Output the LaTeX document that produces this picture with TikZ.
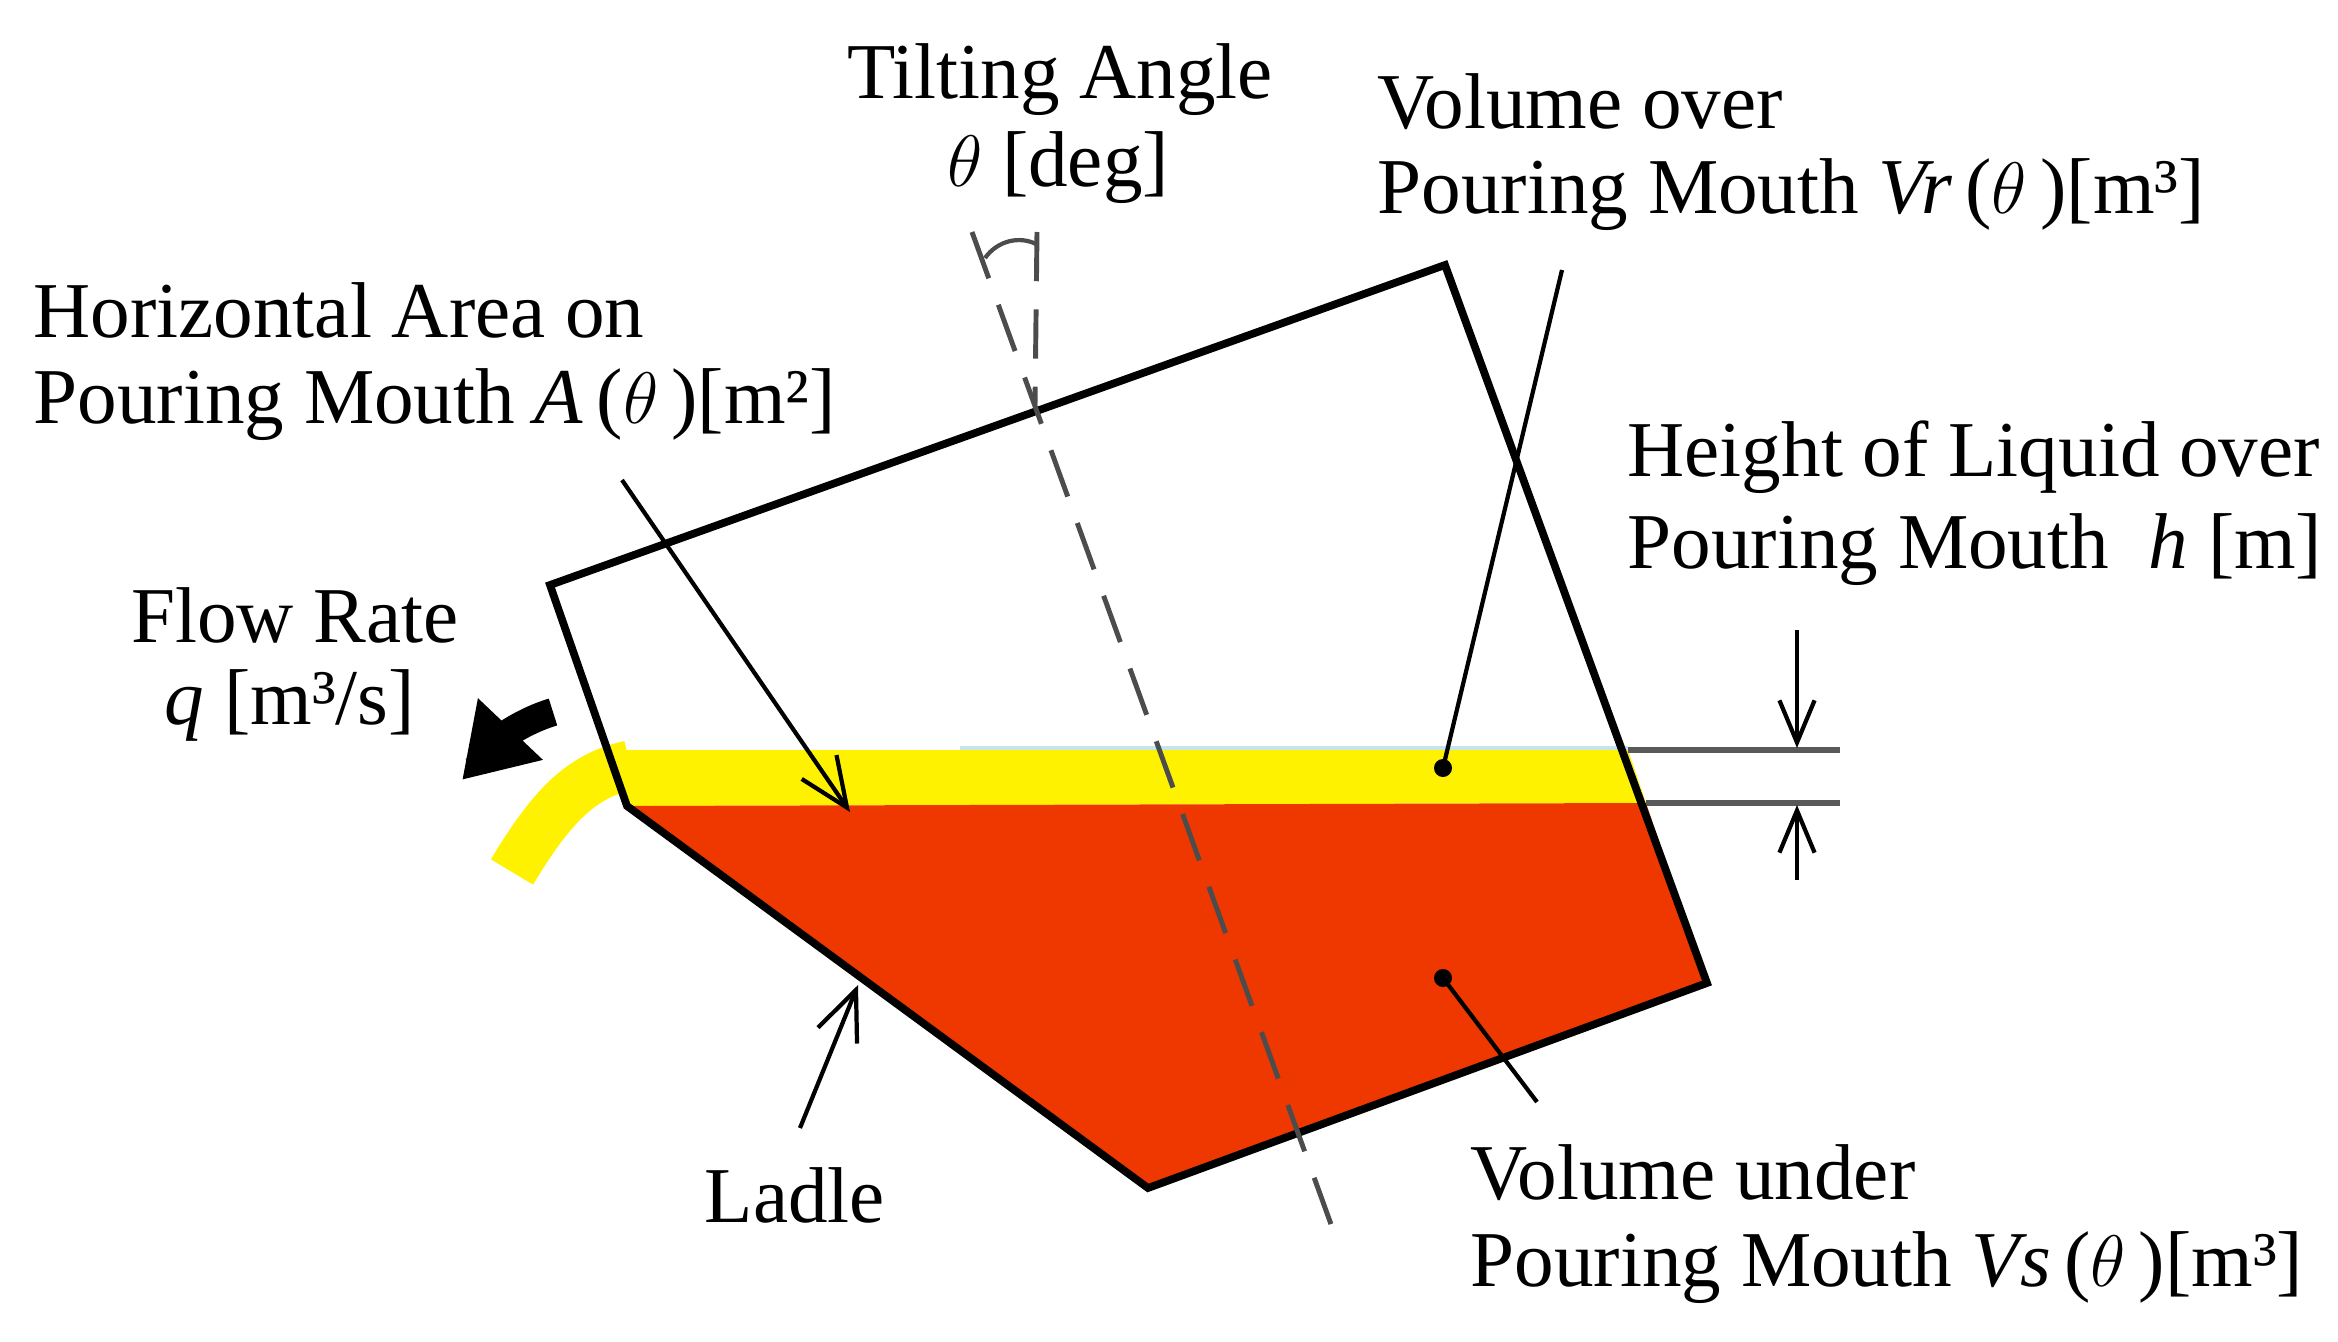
\documentclass[tikz,border=0pt]{standalone}
\usepackage{fontspec}
\setmainfont{Liberation Serif}
\usetikzlibrary{arrows.meta}
\begin{document}
\begin{tikzpicture}[x=0.01cm,y=-0.01cm,
  lbl/.style={font=\fontsize{22.5}{27}\selectfont,inner sep=0pt},
  lead/.style={line width=1.2pt},
  edge/.style={line width=2.2pt,line join=miter},
  dimln/.style={line width=1.6pt,gray!70!black}]
\useasboundingbox (0,0) rectangle (2338,1342);
% liquid
\fill[yellow] (618,750) -- (1628,750) -- (1646,803) -- (627,806) -- cycle;
\fill[fill={rgb,255:red,238;green,56;blue,0}] (627,806) -- (1646,803) -- (1707,983) -- (1148,1188) -- cycle;
\draw[yellow,line width=14pt] (630,765) .. controls (585,775) and (555,800) .. (512,872);
% dim lines
\draw[dimln] (1628,750) -- (1840,750);
\draw[dimln] (1646,803) -- (1840,803);
\draw[line width=1pt,gray!40!cyan!30] (1628,748) -- (960,748);
\coordinate (d1) at (1797,630); \coordinate (d2) at (1797,748);
\coordinate (d3) at (1797,880); \coordinate (d4) at (1797,805);
\draw[lead,-{Straight Barb[length=12pt,width=10pt]}] (d1) -- (d2);
\draw[lead,-{Straight Barb[length=12pt,width=10pt]}] (d3) -- (d4);
% ladle
\draw[edge] (627,806) -- (550,585) -- (1445,265) -- (1707,983) -- (1148,1188) -- cycle;
% dashed axis
\coordinate (t1) at (972,232); \coordinate (t2) at (1332,1227);
\coordinate (v1) at (1037,232); \coordinate (v2) at (1035,406);
\draw[line width=1.4pt,gray!60!black,dash pattern=on 14pt off 8pt] (t1) -- (t2);
\draw[line width=1.4pt,gray!60!black,dash pattern=on 14pt off 8pt] (v1) -- (v2);
\draw[line width=1.2pt,gray!60!black] (985,258) .. controls (998,240) and (1020,236) .. (1036,244);
% black flow arrow
\draw[line width=8pt,-{Triangle[length=20pt,width=24pt]}] (553,712) .. controls (520,722) and (500,740) .. (462,780);
% leaders
\coordinate (a0) at (622,480); \coordinate (a1) at (850,812);
\draw[lead,-{Straight Barb[length=14pt,width=12pt]}] (a0) -- (a1);
\coordinate (l0) at (800,1128); \coordinate (l1) at (858,985);
\draw[lead,-{Straight Barb[length=14pt,width=12pt]}] (l0) -- (l1);
\fill (1443,768) circle (9); \draw[lead] (1443,768) -- (1562,270);
\fill (1443,978) circle (9); \draw[lead] (1443,978) -- (1537,1102);
% texts
\node[lbl] (ta) at (1060,80) {Tilting Angle};
\node[lbl] (tb) at (1058,168) {$\theta$ [deg]};
\node[lbl,anchor=west] (vo1) at (1377,102) {Volume over};
\node[lbl,anchor=west] (vo2) at (1377,195) {Pouring Mouth \textit{Vr}\,($\theta$\,)[m³]};
\node[lbl,anchor=west] (ha1) at (33,310) {Horizontal Area on};
\node[lbl,anchor=west] (ha2) at (33,405) {Pouring Mouth \textit{A}\,($\theta$\,)[m²]};
\node[lbl] (fr1) at (295,615) {Flow Rate};
\node[lbl] (fr2) at (290,705) {\textit{q} [m³/s]};
\node[lbl,anchor=west] (hl1) at (1627,457) {Height of Liquid over};
\node[lbl,anchor=west] (hl2) at (1627,550) {Pouring Mouth \ \textit{h} [m]};
\node[lbl] (ld) at (795,1195) {Ladle};
\node[lbl,anchor=west] (vu1) at (1470,1173) {Volume under};
\node[lbl,anchor=west] (vu2) at (1470,1268) {Pouring Mouth \textit{Vs}\,($\theta$\,)[m³]};
\end{tikzpicture}
\end{document}
